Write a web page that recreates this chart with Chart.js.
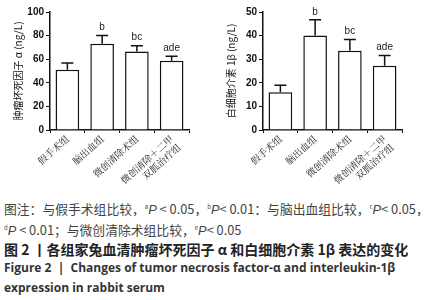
<!DOCTYPE html>
<html>
<head>
<meta charset="utf-8">
<script src="https://cdn.jsdelivr.net/npm/chart.js@4.4.0/dist/chart.umd.min.js"></script>
<style>
  body { margin: 0; background: #fff; width: 426px; height: 300px; overflow: hidden; position: relative; }
  #esq { position: absolute; left: 0; top: 0; }
  #dir { position: absolute; left: 213px; top: 0; }
  .legenda { position: absolute; left: 4px; font-family: "Noto Sans CJK SC", sans-serif; white-space: nowrap; color: #444; }
  .legenda i { font-family: "Liberation Sans", Arial, sans-serif; }
  .legenda sup { font-size: 6px; }
  .fig { color: #222; font-weight: bold; }
  .en { font-family: "Open Sans", "Liberation Sans", sans-serif; font-weight: bold; color: #333; font-size: 12px; }
</style>
</head>
<body>
<canvas id="esq" width="213" height="195"></canvas>
<canvas id="dir" width="213" height="195"></canvas>

<div class="legenda" style="top:199px;font-size:12.8px;">图注：与假手术组比较，<sup>a</sup><i>P</i> &lt; 0.05，<sup>b</sup><i>P</i>&lt; 0.01：与脑出血组比较，<sup>c</sup><i>P</i>&lt; 0.05，</div>
<div class="legenda" style="top:220px;font-size:12.8px;"><sup>d</sup><i>P</i> &lt; 0.01；与微创清除术组比较，<sup>e</sup><i>P</i>&lt; 0.05</div>
<div class="legenda fig" style="top:239px;font-size:14px;">图 2 丨各组家兔血清肿瘤坏死因子 α 和白细胞介素 1β 表达的变化</div>
<div class="legenda en" style="top:259px;">Figure 2 &nbsp;|&nbsp; Changes of tumor necrosis factor-α and interleukin-1β</div>
<div class="legenda en" style="top:279px;">expression in rabbit serum</div>

<script>
// grupos
const grupos = ['假手术组', '脑出血组', '微创清除术组', ['微创清除＋二甲', '双胍治疗组']];

// TNF-α (ng/L)
const tnfMedia = [51, 73, 66.5, 58.7];
const tnfErro = [5.7, 7, 5, 3.7];
const tnfMarcas = ['', 'b', 'bc', 'ade'];

// IL-1β (ng/L)
const ilMedia = [16, 40, 33.6, 27.2];
const ilErro = [3, 6.7, 4.8, 4.4];
const ilMarcas = ['', 'b', 'bc', 'ade'];

// barras de erro (só para cima) + letras de significância
const pluginErro = {
    id: 'pluginErro',
    afterDatasetsDraw(chart) {
        const ctx = chart.ctx;
        const yScale = chart.scales.y;
        const meta = chart.getDatasetMeta(0);
        const erros = chart.options.plugins.pluginErro.erros;
        const marcas = chart.options.plugins.pluginErro.marcas;
        const valores = chart.data.datasets[0].data;
        ctx.save();
        ctx.strokeStyle = '#111';
        ctx.lineWidth = 1.5;
        meta.data.forEach((bar, i) => {
            const x = bar.x;
            const yTopo = yScale.getPixelForValue(valores[i]);
            const yErro = yScale.getPixelForValue(valores[i] + erros[i]);
            ctx.beginPath();
            ctx.moveTo(x, yTopo);
            ctx.lineTo(x, yErro);
            ctx.moveTo(x - 6, yErro);
            ctx.lineTo(x + 6, yErro);
            ctx.stroke();
            if (marcas[i]) {
                ctx.fillStyle = '#222';
                ctx.font = '10px "Liberation Sans", Arial, sans-serif';
                ctx.textAlign = 'center';
                ctx.textBaseline = 'bottom';
                ctx.fillText(marcas[i], x, yErro - 3);
            }
        });
        ctx.restore();
    }
};

function criarGrafico(id, valores, erros, marcas, maximo, passo, titulo) {
    const ctx = document.getElementById(id).getContext('2d');
    return new Chart(ctx, {
        type: 'bar',
        data: {
            labels: grupos,
            datasets: [{
                data: valores,
                backgroundColor: '#fff',
                borderColor: '#111',
                borderWidth: 1.5,
                barPercentage: 0.68,
                categoryPercentage: 1
            }]
        },
        options: {
            responsive: false,
            animation: false,
            layout: { padding: { top: 12, right: 24, left: 12, bottom: 0 } },
            plugins: {
                legend: { display: false },
                tooltip: { enabled: false },
                pluginErro: { erros: erros, marcas: marcas }
            },
            scales: {
                x: {
                    grid: { drawOnChartArea: false, drawTicks: true, tickLength: 3, color: '#111' },
                    border: { color: '#111', width: 1.5 },
                    ticks: {
                        color: '#222',
                        font: { family: '"Noto Serif CJK SC", "Noto Sans CJK SC", serif', size: 9.5 },
                        minRotation: 42,
                        maxRotation: 42,
                        autoSkip: false,
                        padding: 0
                    },
                    afterFit: scale => { scale.height = 65; }
                },
                y: {
                    min: 0,
                    max: maximo,
                    grid: { drawOnChartArea: false, drawTicks: true, tickLength: 4, color: '#111' },
                    border: { color: '#111', width: 1.5 },
                    ticks: {
                        stepSize: passo,
                        color: '#111',
                        font: { family: '"Liberation Sans", Arial, sans-serif', size: 10, weight: 'bold' },
                        padding: 2
                    },
                    title: {
                        display: true,
                        text: titulo,
                        color: '#111',
                        font: { family: '"Noto Sans CJK SC", sans-serif', size: 10 },
                        padding: { top: 0, bottom: 0 }
                    },
                    afterFit: scale => { scale.width = 38; }
                }
            }
        },
        plugins: [pluginErro]
    });
}

document.addEventListener('DOMContentLoaded', () => {
    criarGrafico('esq', tnfMedia, tnfErro, tnfMarcas, 100, 20, '肿瘤坏死因子 α (ng/L)');
    criarGrafico('dir', ilMedia, ilErro, ilMarcas, 50, 10, '白细胞介素 1β (ng/L)');
});
</script>
</body>
</html>
